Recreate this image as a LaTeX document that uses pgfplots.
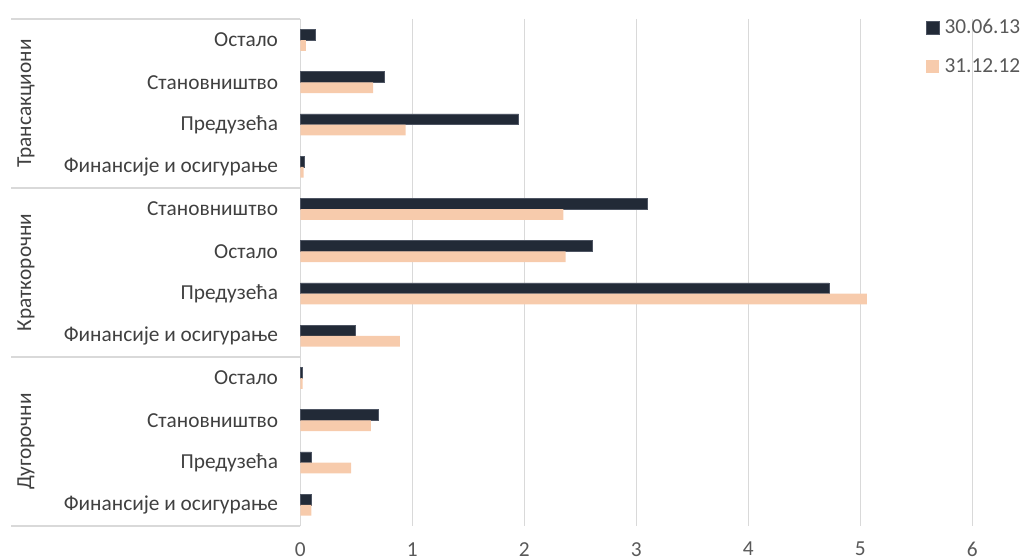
\documentclass[border=0pt]{standalone}
\usepackage{fontspec}
\setmainfont{Carlito}
\usepackage{pgfplots}
\usepackage{pgfplotstable}
\pgfplotsset{compat=1.18}

\definecolor{darkbar}{HTML}{222A37}
\definecolor{darkedge}{HTML}{4E5563}
\definecolor{lightbar}{HTML}{F7CBAC}
\definecolor{gridgray}{HTML}{D9D9D9}
\definecolor{textgray}{HTML}{595959}
\definecolor{labelgray}{HTML}{404040}

% rows from top to bottom: three groups of four sectors
\pgfplotstableread{
idx jun13 dec12
0   0.13  0.05
1   0.75  0.65
2   1.95  0.94
3   0.04  0.03
4   3.10  2.35
5   2.61  2.37
6   4.72  5.06
7   0.49  0.89
8   0.02  0.02
9   0.70  0.63
10  0.10  0.455
11  0.10  0.10
}\loans

\newcommand{\chartfont}{\fontsize{16}{19}\selectfont}

\begin{document}
\begin{tikzpicture}
\path[use as bounding box] (0,0) rectangle (765.75pt,420pt);
\begin{axis}[
  at={(225.2pt,25.5pt)}, anchor=south west,
  scale only axis, width=504pt, height=380.25pt,
  xbar, bar width=8pt,
  xmin=0, xmax=6, ymin=-0.5, ymax=11.5, y dir=reverse,
  clip=false,
  axis line style={draw=none},
  major tick length=0pt,
  xtick={0,1,2,3,4,5,6},
  ytick={0,1,2,3,4,5,6,7,8,9,10,11},
  yticklabels={Остало, Становништво, Предузећа, Финансије и осигурање,
               Становништво, Остало, Предузећа, Финансије и осигурање,
               Остало, Становништво, Предузећа, Финансије и осигурање},
  /pgf/number format/assume math mode=true,
  xmajorgrids, ymajorgrids=false,
  major grid style={gridgray, line width=1.1pt},
  x tick label style={font=\chartfont, text=textgray, anchor=north, inner sep=0pt, yshift=-12pt},
  y tick label style={font=\chartfont, text=labelgray, anchor=east, inner sep=0pt, xshift=-16.5pt},
  legend style={at={(0.931,1.0)}, anchor=north west, draw=none, fill=none,
    font=\chartfont, text=textgray, inner sep=0pt, row sep=17.5pt,
    nodes={inner sep=0pt}},
  legend cell align=left,
  legend image code/.code={\fill[#1] (0pt,-4.875pt) rectangle (9.75pt,4.875pt);},
]
\addplot[fill=darkbar, draw=darkedge, line width=0.4pt, bar shift=4pt]
  table[x=jun13, y=idx] {\loans};
\addplot[fill=lightbar, draw=none, bar shift=-4pt]
  table[x=dec12, y=idx] {\loans};
\legend{\ 30.06.13, \ 31.12.12}

% group separators in the label column
\draw[gridgray, line width=1.1pt] (axis cs:0,-0.5) -- ++(-217pt,0pt);
\draw[gridgray, line width=1.1pt] (axis cs:0,3.5) -- ++(-217pt,0pt);
\draw[gridgray, line width=1.1pt] (axis cs:0,7.5) -- ++(-217pt,0pt);
\draw[gridgray, line width=1.1pt] (axis cs:0,11.5) -- ++(-217pt,0pt);
% group names
\path (axis cs:0,1.5) ++(-205.7pt,0pt) node[rotate=90, font=\chartfont, text=labelgray] {Трансакциони};
\path (axis cs:0,5.5) ++(-205.7pt,0pt) node[rotate=90, font=\chartfont, text=labelgray] {Краткорочни};
\path (axis cs:0,9.5) ++(-205.7pt,0pt) node[rotate=90, font=\chartfont, text=labelgray] {Дугорочни};
\end{axis}
\end{tikzpicture}
\end{document}
